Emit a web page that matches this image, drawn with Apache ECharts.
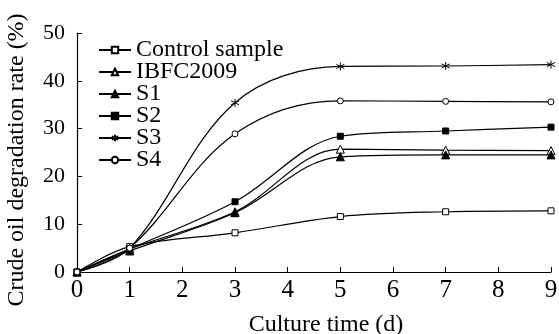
<!DOCTYPE html>
<html>
<head>
<meta charset="UTF-8">
<title></title>
<script src="https://cdn.jsdelivr.net/npm/echarts@6/dist/echarts.min.js"></script>
<style type="text/css">
  *{margin:0;padding:0;}
  #main{width:559px;height:334px;background:#fff;}
</style>
</head>
<body>
<div id="main"></div>
<script type="text/javascript">
// culture time (d)
var days = [0, 1, 3, 5, 7, 9];
// degradation rate (%)
var control = [0, 5.3, 8.2, 11.6, 12.6, 12.8];
var ibfc = [0, 4.8, 12.6, 25.7, 25.5, 25.4];
var s1 = [0, 4.4, 12.4, 24.1, 24.5, 24.5];
var s2 = [0, 4.8, 14.7, 28.4, 29.5, 30.3];
var s3 = [0, 5.0, 35.4, 43.0, 43.1, 43.4];
var s4 = [0, 5.0, 28.9, 35.8, 35.7, 35.6];
var names = ['Control sample', 'IBFC2009', 'S1', 'S2', 'S3', 'S4'];

var star = 'path://M0,-5L0,5M-4.5,-2.6L4.5,2.6M-4.5,2.6L4.5,-2.6';
var serif = 'Liberation Serif';

function pairs(arr){
    var out = [];
    for (var i = 0; i < days.length; i++) out.push([days[i], arr[i]]);
    return out;
}

function mkSeries(name, arr, symbol, size, filled){
    return {
        name: name,
        type: 'line',
        smooth: 0.35,
        data: pairs(arr),
        symbol: symbol,
        symbolSize: size,
        showAllSymbol: true,
        lineStyle: {color: '#000', width: 1.2},
        itemStyle: {
            color: filled ? '#000' : (symbol == star ? 'none' : '#fff'),
            borderColor: '#000',
            borderWidth: 1
        },
        emphasis: {disabled: true}
    };
}

var myChart = echarts.init(document.getElementById('main'));
var option = {
    animation: false,
    grid: {left: 77, right: 8, top: 33, bottom: 62, containLabel: false, outerBoundsMode: 'none'},
    legend: {
        left: 98, top: 38, padding: 0,
        orient: 'vertical',
        itemWidth: 32, itemHeight: 8, itemGap: -2,
        textStyle: {fontFamily: serif, fontSize: 24, lineHeight: 22, color: '#000'},
        data: names
    },
    xAxis: {
        type: 'value', min: 0, max: 9, interval: 1,
        name: 'Culture time (d)', nameLocation: 'middle', nameGap: 41,
        nameTextStyle: {fontFamily: serif, fontSize: 24, color: '#000', padding: [0, 0, 0, 24]},
        splitLine: {show: false},
        axisLine: {lineStyle: {color: '#000', width: 1.2}},
        axisTick: {inside: true, length: 5, lineStyle: {color: '#000'}},
        axisLabel: {fontFamily: serif, fontSize: 25, color: '#000', margin: 6}
    },
    yAxis: {
        type: 'value', min: 0, max: 50, interval: 10,
        name: 'Crude oil degradation rate (%)', nameLocation: 'middle', nameGap: 48,
        nameTextStyle: {fontFamily: serif, fontSize: 24, color: '#000', padding: [0, 15, 0, 0]},
        splitLine: {show: false},
        axisLine: {show: true, lineStyle: {color: '#000', width: 1.2}},
        axisTick: {show: true, inside: true, length: 5, lineStyle: {color: '#000'}},
        axisLabel: {fontFamily: serif, fontSize: 22, color: '#000', margin: 12}
    },
    series: [
        mkSeries(names[0], control, 'rect', 6, false),
        mkSeries(names[1], ibfc, 'triangle', 8, false),
        mkSeries(names[2], s1, 'triangle', 8, true),
        mkSeries(names[3], s2, 'rect', 6, true),
        mkSeries(names[4], s3, star, 8, false),
        mkSeries(names[5], s4, 'circle', 6, false)
    ]
};
myChart.setOption(option);
</script>
</body>
</html>
